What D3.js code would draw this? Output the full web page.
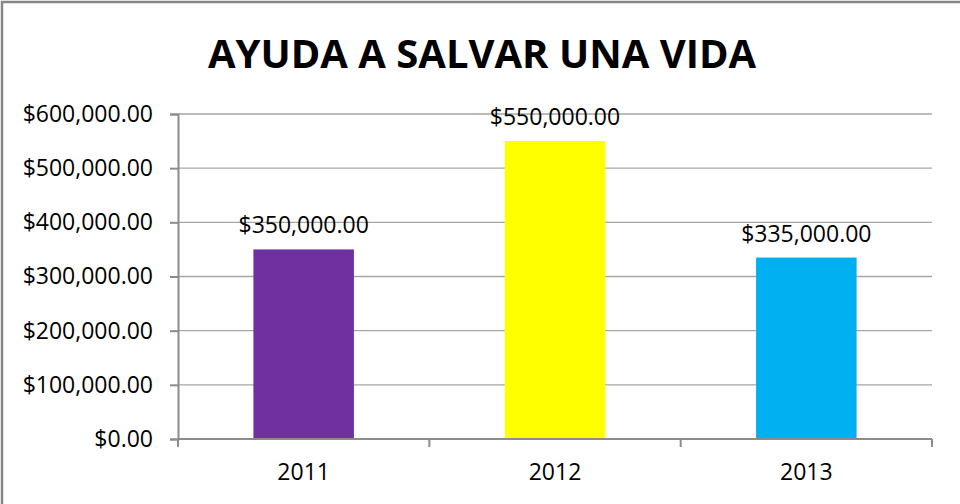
<!DOCTYPE html>
<html>
<head>
<meta charset="utf-8">
<script src="https://cdn.jsdelivr.net/npm/d3@7"></script>
<style>
  body { margin: 0; background: #fff; }
  svg { display: block; font-family: "Open Sans", sans-serif; }
</style>
</head>
<body>
<script>
// data
const years = ["2011", "2012", "2013"];
const amounts = [350000, 550000, 335000];
const barColors = ["#7030a0", "#ffff00", "#00b0f0"];
const yTicks = [0, 100000, 200000, 300000, 400000, 500000, 600000];
const chartTitle = "AYUDA A SALVAR UNA VIDA";

const width = 960, height = 504;
const margin = { left: 178, right: 28, top: 114, bottom: 65 };

const svg = d3.select("body").append("svg")
  .attr("width", width)
  .attr("height", height);

// outer frame
svg.append("rect")
  .attr("x", 2).attr("y", 2)
  .attr("width", width + 10).attr("height", height + 10)
  .attr("fill", "none")
  .attr("stroke", "#868686")
  .attr("stroke-width", 2.5);

const x = d3.scaleBand()
  .domain(years)
  .range([margin.left, width - margin.right])
  .paddingInner(0.6)
  .paddingOuter(0.3);

const y = d3.scaleLinear()
  .domain([0, 600000])
  .range([height - margin.bottom, margin.top]);

const money = d3.format("$,.2f");

// gridlines
svg.append("g")
  .selectAll("line")
  .data(yTicks.slice(1))
  .join("line")
  .attr("x1", margin.left).attr("x2", width - margin.right)
  .attr("y1", d => y(d)).attr("y2", d => y(d))
  .attr("stroke", "#a6a6a6")
  .attr("stroke-width", 1.3);

// y axis
const yAxis = svg.append("g")
  .attr("transform", `translate(${margin.left},0)`)
  .call(d3.axisLeft(y).tickValues(yTicks).tickFormat(money).tickSize(8).tickPadding(17));
yAxis.select(".domain").attr("stroke", "#8c8c8c").attr("stroke-width", 2);
yAxis.selectAll(".tick line").attr("stroke", "#8c8c8c").attr("stroke-width", 2);
yAxis.selectAll("text")
  .attr("fill", "#000")
  .style("font-size", "23px")
  .style("font-family", "Open Sans, sans-serif");

// bars
svg.append("g")
  .selectAll("rect")
  .data(years)
  .join("rect")
  .attr("x", d => x(d))
  .attr("width", x.bandwidth())
  .attr("y", (d, i) => y(amounts[i]))
  .attr("height", (d, i) => y(0) - y(amounts[i]))
  .attr("fill", (d, i) => barColors[i]);

// x axis with boundary ticks
const x0 = margin.left, x1 = width - margin.right;
const xg = svg.append("g");
xg.append("line")
  .attr("x1", x0).attr("x2", x1)
  .attr("y1", y(0)).attr("y2", y(0))
  .attr("stroke", "#8c8c8c").attr("stroke-width", 2);
xg.selectAll("line.tk")
  .data(d3.range(years.length + 1))
  .join("line")
  .attr("class", "tk")
  .attr("x1", i => x0 + i * (x1 - x0) / years.length)
  .attr("x2", i => x0 + i * (x1 - x0) / years.length)
  .attr("y1", y(0)).attr("y2", y(0) + 8)
  .attr("stroke", "#8c8c8c").attr("stroke-width", 2);
xg.selectAll("text")
  .data(years)
  .join("text")
  .attr("x", d => x(d) + x.bandwidth() / 2)
  .attr("y", 480)
  .attr("text-anchor", "middle")
  .style("font-size", "23px")
  .text(d => d);

// value labels
svg.append("g")
  .selectAll("text")
  .data(years)
  .join("text")
  .attr("x", d => x(d) + x.bandwidth() / 2)
  .attr("y", (d, i) => y(amounts[i]) - 16)
  .attr("text-anchor", "middle")
  .style("font-size", "23px")
  .text((d, i) => money(amounts[i]));

// title
svg.append("text")
  .attr("x", 482)
  .attr("y", 68)
  .attr("text-anchor", "middle")
  .style("font-size", "40px")
  .style("font-weight", "bold")
  .text(chartTitle);
</script>
</body>
</html>
